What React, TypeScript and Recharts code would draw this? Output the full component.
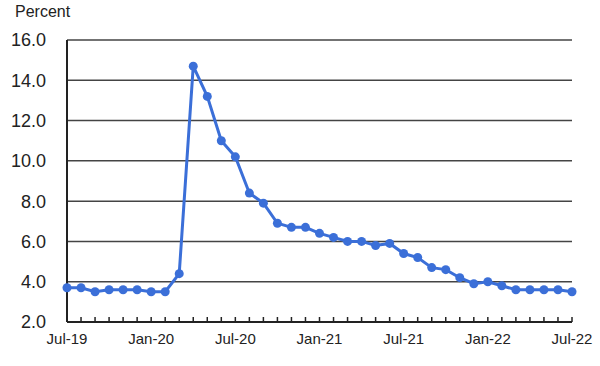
import { CartesianGrid, Line, LineChart, XAxis, YAxis } from "recharts";

const months = [
  "Jul-19", "Aug-19", "Sep-19", "Oct-19", "Nov-19", "Dec-19",
  "Jan-20", "Feb-20", "Mar-20", "Apr-20", "May-20", "Jun-20",
  "Jul-20", "Aug-20", "Sep-20", "Oct-20", "Nov-20", "Dec-20",
  "Jan-21", "Feb-21", "Mar-21", "Apr-21", "May-21", "Jun-21",
  "Jul-21", "Aug-21", "Sep-21", "Oct-21", "Nov-21", "Dec-21",
  "Jan-22", "Feb-22", "Mar-22", "Apr-22", "May-22", "Jun-22",
  "Jul-22",
];

const rates = [
  3.7, 3.7, 3.5, 3.6, 3.6, 3.6,
  3.5, 3.5, 4.4, 14.7, 13.2, 11.0,
  10.2, 8.4, 7.9, 6.9, 6.7, 6.7,
  6.4, 6.2, 6.0, 6.0, 5.8, 5.9,
  5.4, 5.2, 4.7, 4.6, 4.2, 3.9,
  4.0, 3.8, 3.6, 3.6, 3.6, 3.6,
  3.5,
];

const yTicks = [2, 4, 6, 8, 10, 12, 14, 16];

const data = months.map((month, i) => ({ month, rate: rates[i] }));

const font = "'Liberation Sans', Arial, sans-serif";
const blue = "#3b6fd8";

function MonthTick(props: any) {
  const { x, y, payload, index } = props;
  const i = payload?.index ?? index;
  return (
    <g>
      <line x1={x} x2={x} y1={y} y2={y - 5} stroke="#222" strokeWidth={1.5} />
      {i % 6 === 0 && (
        <text x={x} y={y + 22} textAnchor="middle" fontSize={15} fill="#222" fontFamily={font}>
          {payload.value}
        </text>
      )}
    </g>
  );
}

export default function App() {
  return (
    <div style={{ position: "absolute", left: 0, top: 0, width: 600, height: 366, background: "#fff" }}>
      <div style={{ position: "absolute", left: 15, top: 3, fontSize: 16, fontFamily: font, color: "#222" }}>
        Percent
      </div>
      <LineChart width={600} height={366} data={data} margin={{ top: 40, right: 28, left: 0, bottom: 0 }}>
        <CartesianGrid vertical={false} stroke="#444" strokeWidth={1.5} />
        <XAxis
          dataKey="month"
          height={44}
          interval={0}
          tickSize={0}
          tickMargin={0}
          tick={<MonthTick />}
          axisLine={{ stroke: "#222", strokeWidth: 2 }}
          tickLine={false}
        />
        <YAxis
          width={67}
          domain={[2, 16]}
          ticks={yTicks}
          tickFormatter={(v: number) => v.toFixed(1)}
          tickLine={false}
          tickMargin={15}
          axisLine={{ stroke: "#222", strokeWidth: 2 }}
          tick={{ fontSize: 18, fill: "#222", fontFamily: font }}
        />
        <YAxis
          yAxisId="right"
          orientation="right"
          width={0}
          tick={false}
          tickLine={false}
          axisLine={{ stroke: "#222", strokeWidth: 2 }}
        />
        <Line
          dataKey="rate"
          stroke={blue}
          strokeWidth={3}
          dot={{ r: 4.5, fill: blue, stroke: blue, strokeWidth: 0 }}
          isAnimationActive={false}
        />
      </LineChart>
    </div>
  );
}
